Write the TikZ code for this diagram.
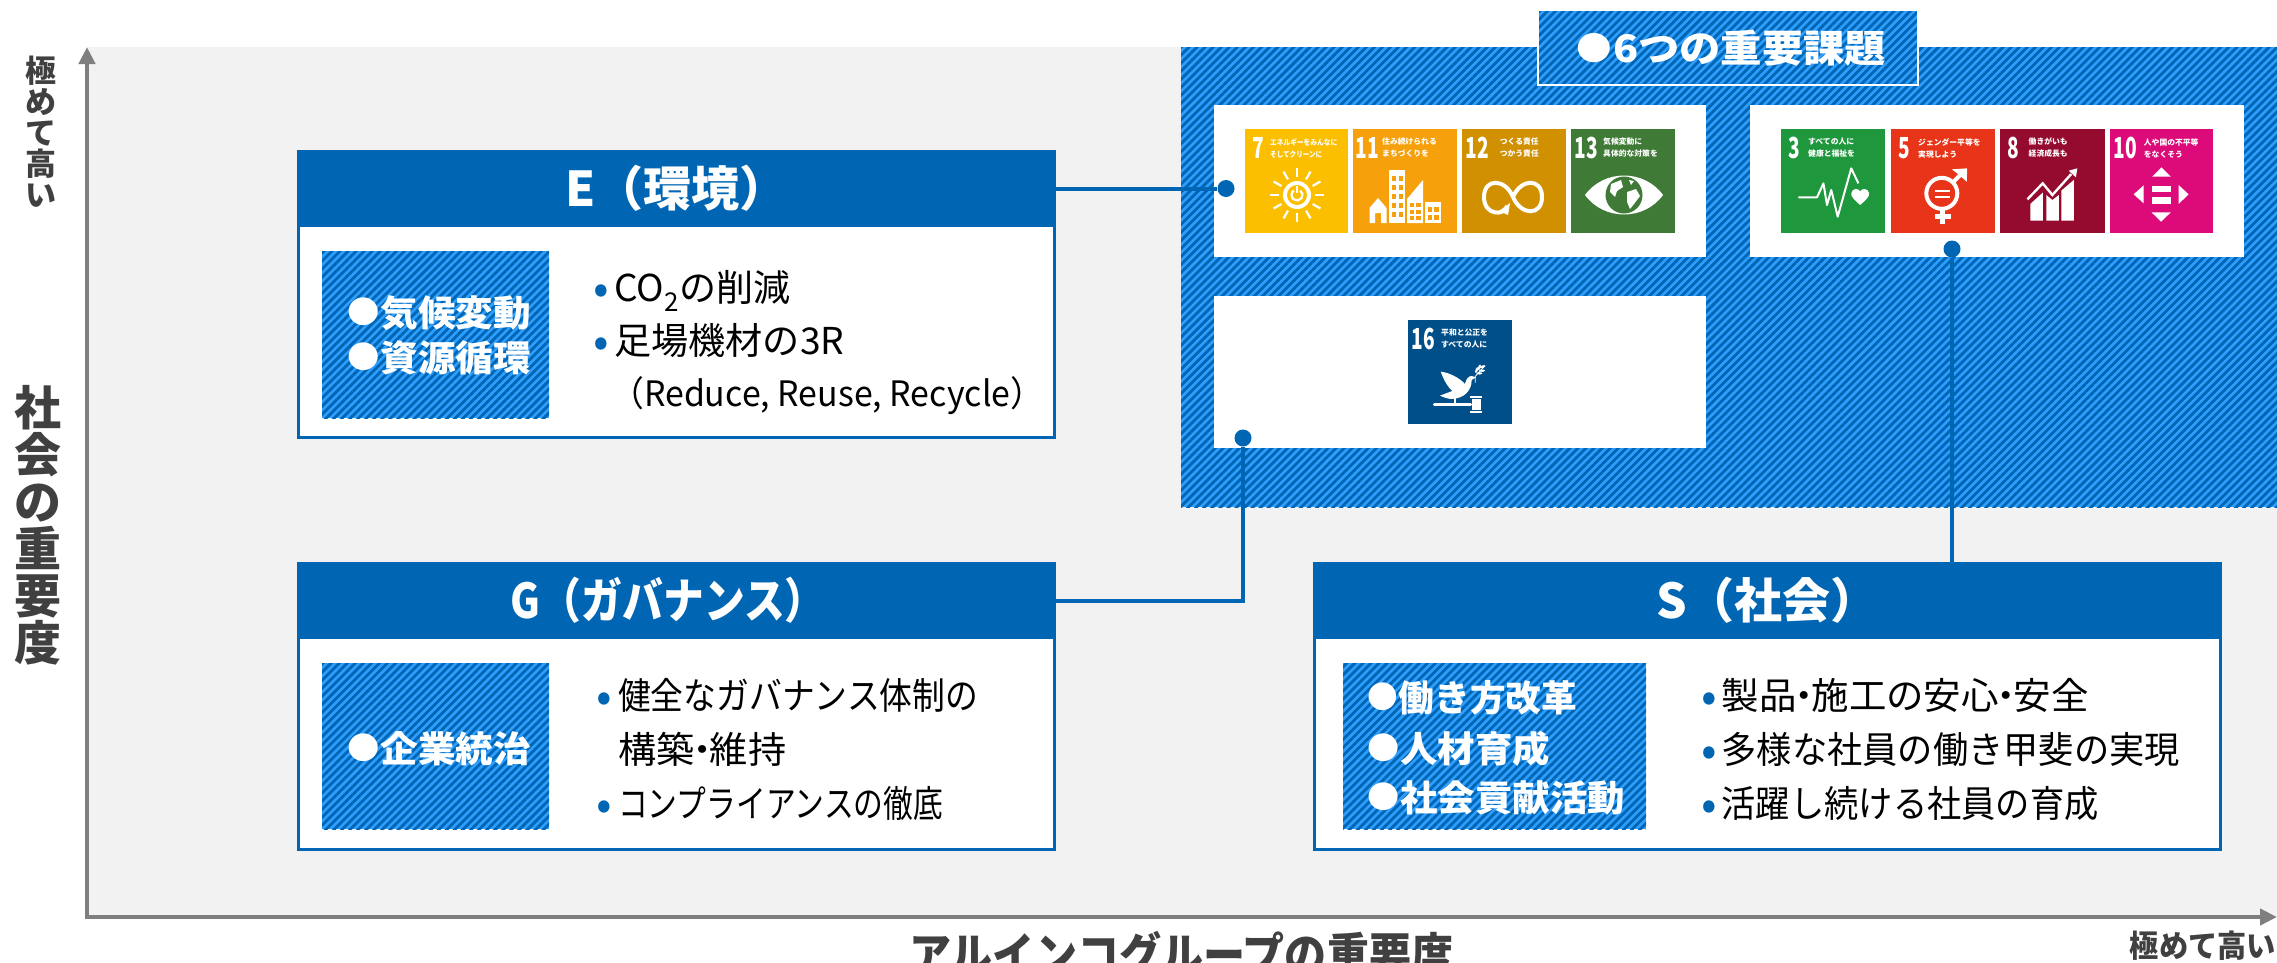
\documentclass[tikz,border=0pt]{standalone}
\usepackage{fontspec}
\usepackage{graphicx}
\setmainfont{Noto Sans CJK JP}
\usetikzlibrary{arrows.meta,patterns.meta}
\definecolor{bluehdr}{HTML}{0066B3}
\definecolor{hatchlight}{HTML}{2E9FFF}
\definecolor{paneBg}{HTML}{F2F2F2}
\definecolor{axisgray}{HTML}{7F7F7F}
\definecolor{axtext}{HTML}{404040}
\definecolor{sdgA}{HTML}{FCBF00}
\definecolor{sdgB}{HTML}{F6A00C}
\definecolor{sdgC}{HTML}{D09000}
\definecolor{sdgD}{HTML}{407A37}
\definecolor{sdgE}{HTML}{1F983D}
\definecolor{sdgF}{HTML}{E83418}
\definecolor{sdgG}{HTML}{950B30}
\definecolor{sdgH}{HTML}{DD0A7A}
\definecolor{sdgI}{HTML}{004F88}
\newcommand{\fw}[2]{\resizebox{#1pt}{\height}{#2}}
\newcommand{\nk}{\kern-.3em・\kern-.3em}
\newcommand{\lb}{\raisebox{.06em}{\scalebox{.86}{●}}\kern.03em}
\newcommand{\boxnode}[6]{\pgfmathsetmacro\bw{#5-#3}\pgfmathsetmacro\bh{#6-#4}%
  \node[#1,anchor=north west,inner sep=0pt,outer sep=0pt,minimum width=\bw pt,minimum height=\bh pt] (#2) at (#3,#4) {};}
\newcommand{\tnum}[4]{\node[tilenum] (#1) at (#2,#3) {\scalebox{.66}[1]{#4}};}
\newcommand{\ttxt}[5]{\node[tiletxt] (#1) at (#2,#3) {#4\\#5};}
\newcommand{\bullettext}[6]{%
  \node[bulletmark] (#1b) at (#2,#3) {•};
  \node[bodytext] (#1) at (#4,#3) {\fw{#5}{#6}};}
\tikzset{
  hatchbox/.style={preaction={fill=hatchlight},pattern={Lines[angle=45,distance=5.7pt,line width=2.85pt]},pattern color=bluehdr},
  whitebox/.style={fill=white},
  cardbody/.style={fill=white,draw=bluehdr,line width=3pt},
  cardhead/.style={fill=bluehdr},
  titletext/.style={text=white,font=\fontsize{48}{48}\bfseries\selectfont,inner sep=0pt},
  labeltext/.style={text=white,anchor=west,inner sep=0pt,font=\fontsize{36}{36}\bfseries\selectfont,text height=32pt,text depth=4pt},
  bodytext/.style={anchor=west,inner sep=0pt,font=\fontsize{37}{37}\selectfont,text height=32.5pt,text depth=4.5pt},
  bulletmark/.style={text=bluehdr,inner sep=0pt,font=\fontsize{46}{46}\selectfont,text height=40.5pt,text depth=5.5pt},
  axislabel/.style={text=axtext,inner sep=0pt,align=center},
  axisline/.style={draw=axisgray,line width=4.5pt,-{Triangle[length=17pt,width=16pt]}},
  conn/.style={draw=bluehdr,line width=4pt},
  conndot/.style={circle,fill=bluehdr,inner sep=0pt,minimum size=17pt},
  tilenum/.style={text=white,inner sep=0pt,font=\fontsize{29}{29}\bfseries\selectfont},
  tiletxt/.style={text=white,anchor=west,inner sep=0pt,align=left,font=\fontsize{7.8}{12}\bfseries\selectfont},
  icon/.style={white,line width=2.2pt},
}
\begin{document}
\begin{tikzpicture}[x=1pt,y=-1pt]
\useasboundingbox (0,0) rectangle (2277,962);
\fill[white] (0,0) rectangle (2277,962);
% backdrop
\boxnode{fill=paneBg}{plane}{88}{47}{2277}{917}
\boxnode{hatchbox}{panel}{1181}{47}{2277}{507}
\boxnode{hatchbox,draw=white,line width=2.5pt}{keybox}{1538}{10}{1918}{85}
\node[text=white,inner sep=0pt,anchor=west,font=\fontsize{38}{38}\bfseries\selectfont] (keytxt) at (1576,48) {\fw{310}{\lb 6つの重要課題}};
\boxnode{whitebox}{wA}{1214}{105}{1706}{257}
\boxnode{whitebox}{wB}{1750}{105}{2244}{257}
\boxnode{whitebox}{wC}{1214}{296}{1706}{448}
% tiles
\boxnode{fill=sdgA}{t7}{1245}{129}{1348}{233}
\boxnode{fill=sdgB}{t11}{1353}{129}{1457}{233}
\boxnode{fill=sdgC}{t12}{1462}{129}{1566}{233}
\boxnode{fill=sdgD}{t13}{1571}{129}{1675}{233}
\boxnode{fill=sdgE}{t3}{1781}{129}{1885}{233}
\boxnode{fill=sdgF}{t5}{1891}{129}{1995}{233}
\boxnode{fill=sdgG}{t8}{2000}{129}{2104.5}{233}
\boxnode{fill=sdgH}{t10}{2110}{129}{2213}{233}
\boxnode{fill=sdgI}{t16}{1408}{320}{1512}{424}
\tnum{n7}{1258}{148}{7}\tnum{n11}{1367.5}{148}{11}\tnum{n12}{1477}{148}{12}\tnum{n13}{1586}{148}{13}
\tnum{n3}{1794}{148}{3}\tnum{n5}{1904}{148}{5}\tnum{n8}{2013.5}{148}{8}\tnum{n10}{2125.5}{148}{10}\tnum{n16}{1423}{339}{16}
\ttxt{x7}{1270}{148}{\fw{67}{エネルギーをみんなに}}{\fw{52}{そしてクリーンに}}
\ttxt{x11}{1382}{148}{住み続けられる}{まちづくりを}
\ttxt{x12}{1499.6}{148}{つくる責任}{つかう責任}
\ttxt{x13}{1603}{148}{気候変動に}{具体的な対策を}
\ttxt{x3}{1808}{148}{すべての人に}{健康と福祉を}
\ttxt{x5}{1918}{148}{ジェンダー平等を}{実現しよう}
\ttxt{x8}{2028.5}{148}{働きがいも}{経済成長も}
\ttxt{x10}{2143.7}{148}{人や国の不平等}{をなくそう}
\ttxt{x16}{1441}{339}{平和と公正を}{すべての人に}
% icon 7: sun
\begin{scope}[shift={(1297,195)}]
  \foreach \a in {0,30,...,330} \draw[icon] (\a:18) -- (\a:27);
  \fill[white] (0,0) circle (14pt);
  \fill[sdgA] (0,0) circle (10pt);
  \draw[icon] (-55:5.5) arc[start angle=55,end angle=-235,radius=5.5pt];
  \draw[icon] (0,-9) -- (0,-2);
\end{scope}
% icon 11: buildings
\begin{scope}
  \fill[white] (1369.5,223) -- (1369.5,208) -- (1378,198) -- (1386.5,208) -- (1386.5,223) -- (1381,223) -- (1381,213) -- (1375,213) -- (1375,223) -- cycle;
  \fill[white] (1388.5,170) rectangle (1405,223);
  \foreach \yy in {176,185,194,203,212} {\fill[sdgB] (1391.5,\yy) rectangle (1395.5,\yy+4.5); \fill[sdgB] (1398.5,\yy) rectangle (1402.5,\yy+4.5);}
  \fill[white] (1407,223) -- (1407,199) -- (1423,180) -- (1423,223) -- cycle;
  \foreach \yy in {203,210,216} {\fill[sdgB] (1409.5,\yy) rectangle (1414,\yy+4); \fill[sdgB] (1416,\yy) rectangle (1420.5,\yy+4);}
  \fill[white] (1425,202) rectangle (1441,223);
  \foreach \yy in {207,215} {\fill[sdgB] (1427.5,\yy) rectangle (1432,\yy+5); \fill[sdgB] (1434,\yy) rectangle (1438.5,\yy+5);}
\end{scope}
% icon 12: infinity
\begin{scope}[shift={(1513,197)}]
  \draw[white,line width=4pt] (0,0) .. controls (8,-19) and (29,-19) .. (29,0) .. controls (29,19) and (8,19) .. (0,0) .. controls (-8,-19) and (-29,-19) .. (-29,0) .. controls (-29,19) and (-8,19) .. (-6,9);
  \fill[white] (-14,14) -- (-3,6) -- (-5,18) -- cycle;
\end{scope}
% icon 13: eye
\begin{scope}[shift={(1624,195)}]
  \fill[white] (-39,0) .. controls (-20,-26) and (20,-26) .. (39,0) .. controls (20,26) and (-20,26) .. (-39,0) -- cycle;
  \fill[sdgD] (0,0) circle (18.5pt);
  \fill[white] (-13,-11) -- (-3,-15) -- (-1,-8) -- (-7,-4) -- (-9,2) -- (-14,-3) -- cycle;
  \fill[white] (3,-3) -- (12,-6) -- (16,1) -- (10,9) -- (6,14) -- (3,7) -- cycle;
  \fill[white] (5,-15) -- (10,-14) -- (7,-10) -- cycle;
\end{scope}
% icon 3: heartbeat
\begin{scope}[shift={(1720,100)},x=.3566pt,y=-.3333pt]
  \draw[white,line width=2pt,line join=round] (220,292) -- (272,292) -- (290,250) -- (300,315) -- (312,270) -- (330,350) -- (368,205) -- (388,250);
  \fill[white] (393,315) .. controls (375,298) and (367,290) .. (368,280) .. controls (370,265) and (388,263) .. (393,274) .. controls (398,263) and (416,265) .. (418,280) .. controls (419,290) and (411,298) .. (393,315) -- cycle;
\end{scope}
% icon 5: gender
\begin{scope}[shift={(1720,100)},x=.3566pt,y=-.3333pt]
  \draw[white,line width=4pt] (622,280) circle (15.5pt);
  \draw[white,line width=4pt] (652,248) -- (680,218);
  \fill[white] (650,208) -- (693,205) -- (692,245) -- (678,232) -- (665,220) -- cycle;
  \draw[white,line width=5pt] (625,322) -- (625,372);
  \draw[white,line width=4.5pt] (602,350) -- (648,350);
  \draw[white,line width=2.2pt] (603,272) -- (645,272) (603,291) -- (645,291);
\end{scope}
% icon 8: growth chart
\begin{scope}[shift={(1720,100)},x=.3566pt,y=-.3333pt]
  \fill[white] (870,362) -- (870,312) -- (905,278) -- (905,362) -- cycle;
  \fill[white] (915,362) -- (915,285) -- (932,300) -- (950,285) -- (950,362) -- cycle;
  \fill[white] (957,362) -- (957,272) -- (992,240) -- (992,362) -- cycle;
  \draw[white,line width=2.4pt] (862,298) -- (905,250) -- (932,285) -- (985,222);
  \fill[white] (1002,205) -- (998,232) -- (978,212) -- cycle;
\end{scope}
% icon 10: arrows
\begin{scope}[shift={(1720,100)},x=.3566pt,y=-.3333pt]
  \fill[white] (1212,230) -- (1264,230) -- (1238,202) -- cycle;
  \fill[white] (1210,337) -- (1264,337) -- (1237,365) -- cycle;
  \fill[white] (1188,256) -- (1188,310) -- (1160,283) -- cycle;
  \fill[white] (1286,255) -- (1286,312) -- (1314,283) -- cycle;
  \fill[white] (1210,257) rectangle (1264,275);
  \fill[white] (1210,292) rectangle (1264,312);
\end{scope}
% icon 16: dove and gavel
\begin{scope}[shift={(1200,280)},x=.3333pt,y=-.3333pt]
  \fill[white] (720,347) -- (757,333) .. controls (738,315) and (730,295) .. (722,275) .. controls (750,278) and (780,295) .. (795,312) .. controls (798,298) and (805,288) .. (815,288) -- (828,292) -- (815,300) .. controls (815,330) and (795,355) .. (755,357) .. controls (745,357) and (730,352) .. (720,347) -- cycle;
  \draw[white,line width=1.4pt] (765,355) -- (765,372);
  \draw[white,line width=3pt,line cap=round] (703,374) -- (812,374);
  \fill[white] (810,349) rectangle (846,355);
  \fill[white] (815,358) rectangle (842,389);
  \fill[white] (810,393) rectangle (846,400);
  \draw[white,line width=.8pt] (825,290) -- (852,260) (826,290) -- (826,308);
  \foreach \lx/\ly/\lr in {830/270/70,838/262/70,848/260/20,846/272/0,838/280/0}
    \fill[white,rotate around={\lr:(\lx,\ly)}] (\lx,\ly) ellipse (3pt and 1.2pt);
\end{scope}
% axes
\coordinate (axO) at (87,917);
\coordinate (axY) at (87,47);
\coordinate (axX) at (2277,917);
\draw[axisline] (axO) -- (axY);
\draw[axisline] ([xshift=-2.25pt]axO) -- (axX);
\node[axislabel,font=\fontsize{31}{31}\bfseries\selectfont] (ylow) at (41,132) {極\\め\\て\\高\\い};
\node[axislabel,font=\fontsize{47}{47}\bfseries\selectfont] (ytitle) at (38,525.5) {社\\会\\の\\重\\要\\度};
\node[axislabel,anchor=west,font=\fontsize{47}{47}\bfseries\selectfont,text height=41pt,text depth=6pt] (xtitle) at (909,955) {\fw{544}{アルインコグループの重要度}};
\node[axislabel,anchor=east,font=\fontsize{31}{31}\bfseries\selectfont,text height=27pt,text depth=4pt] (xlow) at (2276,946) {\fw{146}{極めて高い}};
% card E
\boxnode{cardbody}{Ecard}{298.5}{151}{1054}{437.5}
\boxnode{cardhead}{Ehead}{297}{150}{1055.5}{227}
\node[titletext] (Etitle) at (Ehead) {E（環境）};
\boxnode{hatchbox}{Ehatch}{322}{251}{549}{418}
\node[labeltext] (El1) at (347,312) {\fw{184}{\lb 気候変動}};
\node[labeltext] (El2) at (347,357) {\fw{184}{\lb 資源循環}};
\bullettext{Et1}{601}{287}{614}{176}{CO\textsubscript{2}の削減}
\bullettext{Et2}{601}{340}{614}{230}{足場機材の3R}
\node[bodytext,font=\fontsize{35}{35}\selectfont] (Et3) at (610,392) {\fw{434}{（Reduce, Reuse, Recycle）}};
% card G
\boxnode{cardbody}{Gcard}{298.5}{563}{1054}{849.5}
\boxnode{cardhead}{Ghead}{297}{562}{1055.5}{639}
\node[titletext] (Gtitle) at ([xshift=-8pt]Ghead.center) {\scalebox{.85}[1]{G（ガバナンス）}};
\boxnode{hatchbox}{Ghatch}{322}{663}{549}{829}
\node[labeltext] (Gl1) at (347,748) {\fw{184}{\lb 企業統治}};
\bullettext{Gt1}{604}{695}{618}{360}{健全なガバナンス体制の}
\node[bodytext] (Gt2) at (618,749) {\fw{168}{構築\nk 維持}};
\bullettext{Gt3}{604}{803}{618}{325}{コンプライアンスの徹底}
% card S
\boxnode{cardbody}{Scard}{1314.5}{563}{2220.5}{849.5}
\boxnode{cardhead}{Shead}{1313}{562}{2222}{639}
\node[titletext] (Stitle) at (Shead) {S（社会）};
\boxnode{hatchbox}{Shatch}{1343}{663}{1646}{829}
\node[labeltext] (Sl1) at (1367,697) {\fw{210}{\lb 働き方改革}};
\node[labeltext] (Sl2) at (1367,748) {\fw{183}{\lb 人材育成}};
\node[labeltext] (Sl3) at (1367,797) {\fw{258}{\lb 社会貢献活動}};
\bullettext{St1}{1709.5}{695}{1721.5}{367}{製品\nk 施工の安心\nk 安全}
\bullettext{St2}{1709.5}{749}{1721.5}{458}{多様な社員の働き甲斐の実現}
\bullettext{St3}{1709.5}{803}{1721.5}{377}{活躍し続ける社員の育成}
% connectors
\node[conndot] (dotA) at (1226,188.5) {};
\node[conndot] (dotB) at (1952,249) {};
\node[conndot] (dotC) at (1243,438) {};
\draw[conn] (Ehead.east) -- (dotA);
\draw[conn] (Ghead.east) -| (dotC);
\draw[conn] (Shead.north -| dotB) -- (dotB);
\end{tikzpicture}
\end{document}
